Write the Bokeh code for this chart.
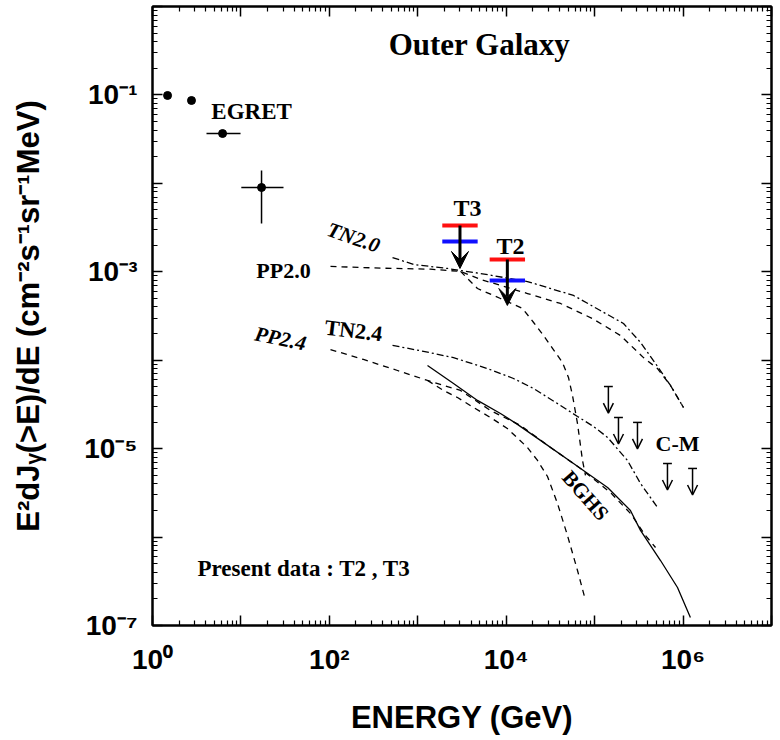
from bokeh.plotting import figure
from bokeh.models import (ColumnDataSource, FixedTicker, LogAxis, Arrow, VeeHead, OpenHead)
from bokeh.core.properties import value
from bokeh.embed import file_html
from bokeh.resources import INLINE

SERIF = "Liberation Serif"
SANS = "Liberation Sans"

# ---------------- data ----------------
x_major = [1e0, 1e1, 1e2, 1e3, 1e4, 1e5, 1e6, 1e7]
y_major = [1e-7, 1e-6, 1e-5, 1e-4, 1e-3, 1e-2, 1e-1, 1e0]
x_labels = {1e0: "10⁰", 1e2: "10²", 1e4: "10⁴", 1e6: "10⁶"}
y_labels = {1e-1: "10⁻¹", 1e-3: "10⁻³", 1e-5: "10⁻⁵", 1e-7: "10⁻⁷"}

# EGRET points
egret_E = [1.48, 2.76, 6.2, 17.1]
egret_F = [0.0986, 0.0865, 0.0366, 0.00898]
egret_E_lo = [1.48, 2.76, 4.08, 10.1]
egret_E_hi = [1.48, 2.76, 9.9, 30.3]
egret_F_lo = [0.0986, 0.0865, 0.0366, 0.00352]
egret_F_hi = [0.0986, 0.0865, 0.0366, 0.0140]

# Present data (upper limits)
t_names = ["T3", "T2"]
t_E = [3.0e3, 1.03e4]
t_red = [3.34e-3, 1.38e-3]
t_blue = [2.20e-3, 7.97e-4]
t_tip = [1.09e-3, 4.16e-4]

# C-M upper limits
cm_E = [1.43e5, 1.86e5, 3.05e5, 6.66e5, 1.28e6]
cm_F = [5.04e-5, 2.25e-5, 1.98e-5, 6.79e-6, 5.97e-6]

# model curves
tn20_E = [518, 894, 2170, 5120, 1.74e4, 5.77e4, 1.16e5, 2.12e5, 3.30e5, 4.88e5, 7.21e5, 1.01e6]
tn20_F = [1.45e-3, 1.21e-3, 1.09e-3, 9.57e-4, 7.76e-4, 5.40e-4, 3.65e-4, 2.60e-4, 1.59e-4, 9.18e-5, 5.18e-5, 2.92e-5]

pp20_E = [103, 379, 1393, 3041, 5120, 1.74e4, 4.11e4, 9.46e4, 1.96e5, 3.57e5, 5.14e5, 7.21e5, 1.01e6]
pp20_F = [1.15e-3, 1.10e-3, 1.07e-3, 1.01e-3, 8.2e-4, 5.68e-4, 4.38e-4, 2.96e-4, 1.90e-4, 1.07e-4, 8.05e-5, 5.18e-5, 2.92e-5]

pp20c_E = [3041, 4732, 8610, 1.53e4, 2.04e4, 2.64e4, 3.34e4, 4.33e4, 5.06e4, 5.62e4, 6.40e4, 7.29e4, 7.88e4]
pp20c_F = [1.01e-3, 6.47e-4, 4.99e-4, 3.85e-4, 2.67e-4, 1.90e-4, 1.36e-4, 9.42e-5, 6.38e-5, 3.99e-5, 1.92e-5, 7.35e-6, 4.97e-6]

tn24_E = [518, 1161, 2535, 6143, 1.21e4, 2.04e4, 4.11e4, 6.40e4, 9.70e4, 1.40e5, 2.35e5, 3.30e5, 5.14e5]
tn24_F = [1.47e-4, 1.26e-4, 1.07e-4, 8.05e-5, 6.21e-5, 4.79e-5, 3.08e-5, 2.31e-5, 1.78e-5, 1.34e-5, 7.35e-6, 4.04e-6, 2.16e-6]

pp24_E = [103, 243, 590, 1288, 3041, 6637, 1.45e4, 3.17e4, 6.92e4, 1.51e5, 2.54e5, 3.76e5, 4.88e5]
pp24_F = [1.32e-4, 1.02e-4, 7.65e-5, 5.90e-5, 4.55e-5, 2.70e-5, 1.83e-5, 1.03e-5, 5.97e-6, 3.19e-6, 1.85e-6, 1.04e-6, 7.62e-7]

pp24c_E = [1288, 1953, 2812, 4266, 6637, 1.03e4, 1.74e4, 2.26e4, 2.93e4, 3.80e4, 4.93e4, 6.40e4, 7.88e4]
pp24c_F = [5.90e-5, 4.55e-5, 3.79e-5, 2.92e-5, 2.25e-5, 1.69e-5, 1.03e-5, 7.35e-6, 4.84e-6, 2.40e-6, 1.04e-6, 4.19e-7, 1.92e-7]

bghs_E = [1288, 2535, 4732, 8610, 1.34e4, 2.44e4, 5.77e4, 1.40e5, 2.54e5, 3.30e5, 5.56e5, 8.65e5, 1.21e6]
bghs_F = [8.71e-5, 5.45e-5, 3.51e-5, 2.50e-5, 1.88e-5, 1.24e-5, 6.79e-6, 3.63e-6, 2.00e-6, 1.19e-6, 5.43e-7, 2.69e-7, 1.23e-7]

# ---------------- figure ----------------
p = figure(width=777, height=738, x_axis_type="log", y_axis_type="log",
           x_range=(1, 1e7), y_range=(1e-7, 1),
           output_backend="svg", toolbar_location=None,
           min_border_left=152, min_border_right=6, min_border_top=6, min_border_bottom=113)
p.grid.visible = False
p.outline_line_color = "black"
p.outline_line_width = 2
p.background_fill_color = "white"
p.border_fill_color = "white"

x_minor = [k * 10 ** d for d in range(0, 7) for k in range(2, 10)]
y_minor = [k * 10.0 ** d for d in range(-7, 0) for k in range(2, 10)]


def style_axis(ax, show):
    ax.axis_line_color = "black"
    ax.axis_line_width = 2
    ax.major_tick_in = 10
    ax.major_tick_out = 0
    ax.minor_tick_in = 5
    ax.minor_tick_out = 0
    ax.major_tick_line_width = 1.5
    ax.minor_tick_line_width = 1.2
    ax.major_tick_line_color = "black"
    ax.minor_tick_line_color = "black"
    if show:
        ax.major_label_text_font = SANS
        ax.major_label_text_font_style = "bold"
        ax.major_label_text_font_size = "28px"
        ax.major_label_text_color = "black"
    else:
        ax.major_label_text_font_size = "1px"
        ax.major_label_text_color = None
        ax.major_label_standoff = 0


xt = FixedTicker(ticks=x_major, minor_ticks=x_minor)
yt = FixedTicker(ticks=y_major, minor_ticks=y_minor)

xa = p.xaxis[0]
xa.ticker = xt
style_axis(xa, True)
xa.major_label_overrides = {t: x_labels.get(t, " ") for t in x_major}
xa.major_label_standoff = 18
xa.axis_label = "ENERGY (GeV)"
xa.axis_label_text_font = SANS
xa.axis_label_text_font_style = "bold"
xa.axis_label_text_font_size = "31px"
xa.axis_label_text_color = "black"
xa.axis_label_standoff = 22

ya = p.yaxis[0]
ya.ticker = yt
style_axis(ya, True)
ya.major_label_overrides = {t: y_labels.get(t, " ") for t in y_major}
ya.major_label_standoff = 15
ya.axis_label = "E²dJᵧ(>E)/dE (cm⁻²s⁻¹sr⁻¹MeV)"
ya.axis_label_text_font = SANS
ya.axis_label_text_font_style = "bold"
ya.axis_label_text_font_size = "31px"
ya.axis_label_text_color = "black"
ya.axis_label_standoff = 35

top = LogAxis(ticker=FixedTicker(ticks=x_major, minor_ticks=x_minor))
style_axis(top, False)
p.add_layout(top, "above")
right = LogAxis(ticker=FixedTicker(ticks=y_major, minor_ticks=y_minor))
style_axis(right, False)
p.add_layout(right, "right")

# ---------------- model curves ----------------
DASH = "6 5"
DASHDOT = "7 3 2 3"
p.line(tn20_E, tn20_F, line_color="black", line_width=1.3, line_dash=DASHDOT)
p.line(pp20_E, pp20_F, line_color="black", line_width=1.3, line_dash=DASH)
p.line(pp20c_E, pp20c_F, line_color="black", line_width=1.3, line_dash=DASH)
p.line(tn24_E, tn24_F, line_color="black", line_width=1.3, line_dash=DASHDOT)
p.line(pp24_E, pp24_F, line_color="black", line_width=1.3, line_dash=DASH)
p.line(pp24c_E, pp24c_F, line_color="black", line_width=1.3, line_dash=DASH)
p.line(bghs_E, bghs_F, line_color="black", line_width=1.3)

# ---------------- EGRET ----------------
p.segment(x0=egret_E_lo, y0=egret_F, x1=egret_E_hi, y1=egret_F, line_color="black", line_width=1.5)
p.segment(x0=egret_E, y0=egret_F_lo, x1=egret_E, y1=egret_F_hi, line_color="black", line_width=1.5)
p.scatter(egret_E, egret_F, size=8, color="black")

# ---------------- present data T2, T3 ----------------
half = 10 ** 0.2
t_src = ColumnDataSource(dict(
    x=t_E, red=t_red, blue=t_blue, tip=t_tip,
    x0=[e / half for e in t_E], x1=[e * half for e in t_E]))
p.add_layout(Arrow(end=VeeHead(size=17, fill_color="black", line_color="black"),
                   x_start="x", y_start="red", x_end="x", y_end="tip",
                   source=t_src, line_color="black", line_width=3))
p.segment(x0="x0", y0="red", x1="x1", y1="red", source=t_src, line_color="#ff1010", line_width=4)
p.segment(x0="x0", y0="blue", x1="x1", y1="blue", source=t_src, line_color="#1010ff", line_width=4)

# ---------------- C-M upper limits ----------------
cap = 10 ** 0.05
drop = 10 ** 0.3
cm_src = ColumnDataSource(dict(
    x=cm_E, y=cm_F, y1=[f / drop for f in cm_F],
    x0=[e / cap for e in cm_E], x1=[e * cap for e in cm_E]))
p.add_layout(Arrow(end=OpenHead(size=10, line_color="black", line_width=1.5),
                   x_start="x", y_start="y", x_end="x", y_end="y1",
                   source=cm_src, line_color="black", line_width=1.5))
p.segment(x0="x0", y0="y", x1="x1", y1="y", source=cm_src, line_color="black", line_width=1.5)

# ---------------- text labels ----------------
def lab(x, y, s, size, style="bold", angle=0.0, align="center", font=SERIF):
    p.text(x=[x], y=[y], text=[s], angle=angle, text_font=value(font),
           text_font_style=style, text_font_size=size, text_align=align,
           text_baseline="middle", text_color="black")


lab(4990, 0.372, "Outer Galaxy", "31px")
lab(13.2, 0.065, "EGRET", "23px")
lab(3650, 5.2e-3, "T3", "24px")
lab(1.12e4, 1.98e-3, "T2", "24px")
lab(188, 2.44e-3, "TN2.0", "21px", style="bold italic", angle=-0.33)
lab(30.3, 1.04e-3, "PP2.0", "22px")
lab(188, 2.17e-4, "TN2.4", "22px", angle=-0.12)
lab(28, 1.76e-4, "PP2.4", "21px", style="bold italic", angle=-0.2)
lab(7.88e4, 2.95e-6, "BGHS", "21px", angle=-0.85)
lab(8.65e5, 1.14e-5, "C-M", "22px")
lab(3.23, 4.41e-7, "Present data : T2 , T3", "23px", align="left")

open("out.html", "w").write(file_html(p, INLINE))
